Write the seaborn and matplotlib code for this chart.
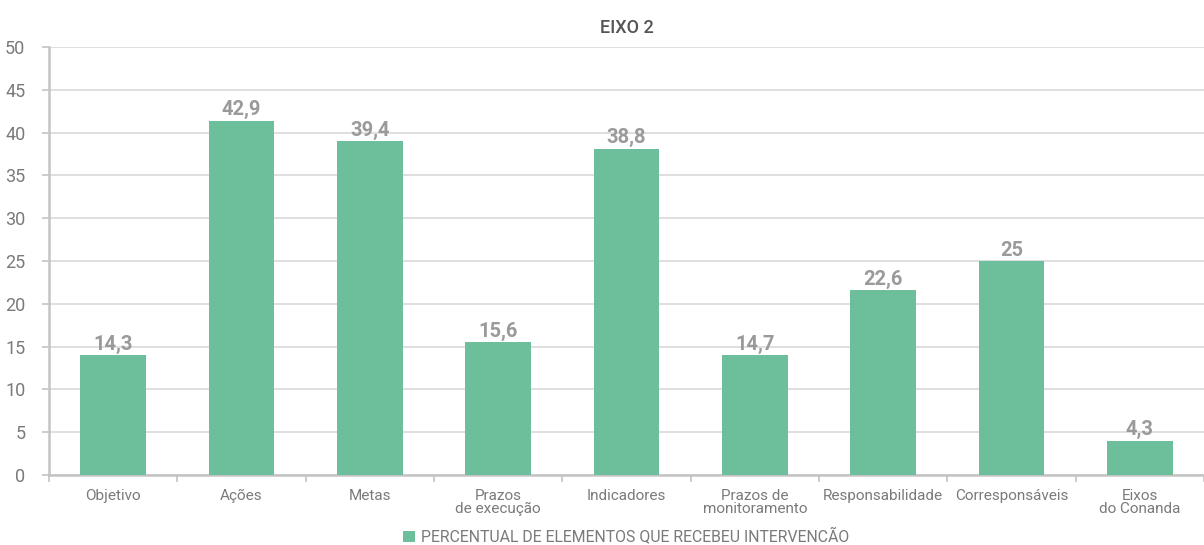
import matplotlib
matplotlib.use("Agg")
import matplotlib.pyplot as plt
import seaborn as sns
import numpy as np

categories = ["Objetivo", "Ações", "Metas", "Prazos\nde execução", "Indicadores",
              "Prazos de\nmonitoramento", "Responsabilidade", "Corresponsáveis",
              "Eixos\ndo Conanda"]
# bar heights as drawn in the reference
bar_values = [14.0, 41.4, 39.0, 15.5, 38.1, 14.0, 21.6, 25.0, 4.0]
# data labels printed above the bars
value_labels = ["14,3", "42,9", "39,4", "15,6", "38,8", "14,7", "22,6", "25", "4,3"]
series_name = "PERCENTUAL DE ELEMENTOS QUE RECEBEU INTERVENCÃO"
title = "EIXO 2"
y_ticks = [0, 5, 10, 15, 20, 25, 30, 35, 40, 45, 50]

sns.set_theme(style="white")
plt.rcParams["font.family"] = ["Roboto", "DejaVu Sans"]

fig = plt.figure(figsize=(12.04, 5.45), dpi=100)
ax = fig.add_axes([49 / 1204, 1 - 475 / 545, (1204 - 49) / 1204, (475 - 47) / 545])

bar_color = "#6dbe9b"
sns.barplot(x=categories, y=bar_values, color=bar_color, width=0.51,
            saturation=1, ax=ax, label=series_name, zorder=3,
            edgecolor="none", linewidth=0)

ax.bar_label(ax.containers[0], labels=value_labels, padding=1,
             fontsize=14.5, fontweight="bold", color="#9a9a9a")

ax.set_xlim(-0.5, len(categories) - 0.5)
ax.set_ylim(0, 50)
ax.set_yticks(y_ticks)
ax.set_yticklabels([str(t) for t in y_ticks])
ax.yaxis.grid(True, color="#d9d9d9", linewidth=1.2, zorder=0)
ax.set_axisbelow(True)

for s in ["top", "right"]:
    ax.spines[s].set_visible(False)
for s in ["left", "bottom"]:
    ax.spines[s].set_color("#c4c4c4")
    ax.spines[s].set_linewidth(1.8)

ax.tick_params(axis="y", which="major", left=True, length=5, width=1.2,
               color="#c4c4c4", labelsize=13, labelcolor="#7a7a7a", pad=12)
ax.tick_params(axis="x", which="major", bottom=False, labelsize=11,
               labelcolor="#7a7a7a", pad=4)
ax.set_xticks(np.arange(-0.5, len(categories), 1.0), minor=True)
ax.tick_params(axis="x", which="minor", bottom=True, length=5, width=1.2,
               color="#c4c4c4")
for lbl in ax.get_xticklabels():
    lbl.set_linespacing(0.95)
    lbl.set_horizontalalignment("center")

ax.set_xlabel("")
ax.set_ylabel("")
ax.set_title(title, fontsize=13, fontweight="medium", color="#555555", pad=10)

leg = ax.legend(loc="center", bbox_to_anchor=(0.5, -0.144),
                frameon=False, fontsize=11.4, handlelength=0.75, handleheight=0.75,
                handletextpad=0.4, labelcolor="#7a7a7a", borderaxespad=0,
                borderpad=0)

fig.savefig("out.png", dpi=100)
